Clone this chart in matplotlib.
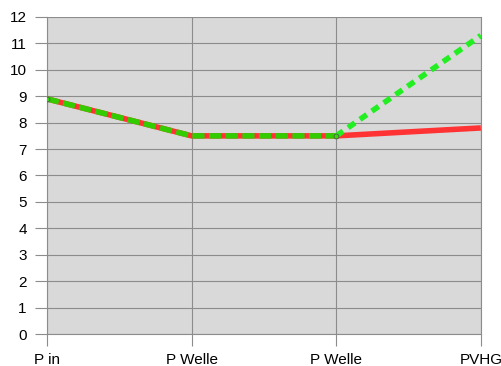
import numpy as np
import matplotlib.pyplot as plt

categories = ["P in", "P Welle", "P Welle", "PVHG"]
red_values = [8.9, 7.5, 7.5, 7.8]
dark_green_values = [8.9, 7.5, 7.5, np.nan]
bright_green_values = [np.nan, np.nan, 7.5, 11.3]

plt.rcParams['font.family'] = ['Liberation Sans', 'DejaVu Sans']

fig = plt.figure(figsize=(5.01, 3.66), dpi=100)
ax = fig.add_axes([0.0938, 0.0874, 0.866, 0.8662])
ax.set_facecolor("#d9d9d9")

x = np.arange(len(categories))
ax.plot(x, red_values, color="#ff3333", lw=4.0, solid_capstyle="butt", zorder=3)
ax.plot(x, dark_green_values, color="#33cc00", lw=4.0, dashes=(2.2, 0.8),
        dash_capstyle="butt", zorder=4)
ax.plot(x, bright_green_values, color="#22ee22", lw=4.0, dashes=(1.5, 1.1),
        dash_capstyle="butt", zorder=4)
ax.plot([0, 2], [dark_green_values[0], dark_green_values[2]], ls="none", marker="o",
        ms=3.5, mfc="#33dd00", mec="#555555", mew=0.6, zorder=5)

ax.set_xlim(0, len(categories) - 1)
ax.set_ylim(0, 12)
ax.set_yticks(range(0, 13))
ax.set_xticks(x)
ax.set_xticklabels(categories)
ax.grid(True, color="#8c8c8c", lw=0.8)
ax.set_axisbelow(True)
for s in ax.spines.values():
    s.set_color("#8c8c8c")
    s.set_linewidth(0.8)
ax.spines["top"].set_visible(False)
ax.tick_params(axis="both", colors="#8c8c8c", labelcolor="black", labelsize=11,
               length=8.5, width=0.8)
ax.tick_params(axis="y", pad=6)
ax.tick_params(axis="x", pad=5)

fig.savefig("out.png", dpi=100)
